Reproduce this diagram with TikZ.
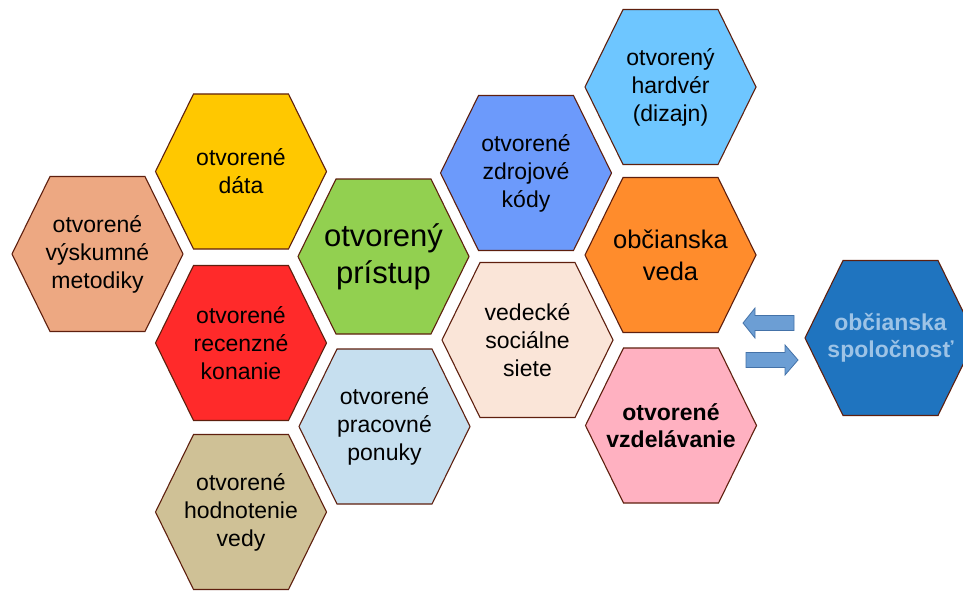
\documentclass[tikz,border=0pt]{standalone}
\usepackage{fontspec}
\setmainfont{Liberation Sans}
\definecolor{hexborder}{HTML}{5E1F0E}
\definecolor{cMet}{HTML}{EDA882}
\definecolor{cDat}{HTML}{FFC800}
\definecolor{cRec}{HTML}{FF2A2A}
\definecolor{cHod}{HTML}{CFC196}
\definecolor{cPri}{HTML}{92D050}
\definecolor{cPra}{HTML}{C6DFEF}
\definecolor{cZdr}{HTML}{6C9AFB}
\definecolor{cSoc}{HTML}{FAE5D8}
\definecolor{cHar}{HTML}{6EC6FF}
\definecolor{cObv}{HTML}{FF8C2C}
\definecolor{cVzd}{HTML}{FFB1C1}
\definecolor{cSpo}{HTML}{1F74BF}
\definecolor{cSpoTxt}{HTML}{9DC3E6}
\definecolor{cArr}{HTML}{6C9ED4}
\definecolor{cArrB}{HTML}{4472A8}
\tikzset{
  hexline/.style={draw=hexborder, line width=1.1pt, line join=miter},
  hextext/.style={align=center, inner sep=0pt, text=black, font=\fontsize{23}{28}\selectfont},
  bigtext/.style={font=\fontsize{31}{37}\selectfont},
  midtext/.style={font=\fontsize{25.5}{32}\selectfont},
  boldtext/.style={font=\fontsize{23}{27}\selectfont\bfseries},
  blockarrow/.style={draw=cArrB, fill=cArr, line width=0.8pt, line join=miter},
}
\newcommand{\hexcell}[6][]{%
  \draw[hexline, fill=#5] (#3-85.5,#4) -- (#3-47.5,#4-77.5) -- (#3+47.5,#4-77.5) -- (#3+85.5,#4) -- (#3+47.5,#4+77.5) -- (#3-47.5,#4+77.5) -- cycle;
  \node[hextext,#1] (#2) at (#3,#4) {#6};
}
\begin{document}
\begin{tikzpicture}[x=1pt,y=-1pt]
\useasboundingbox (0,0) rectangle (963,591);
\begin{scope}
\clip (0,0) rectangle (963,591);
\hexcell{met}{97.5}{254}{cMet}{otvorené\\výskumné\\metodiky}
\hexcell{dat}{241}{171.5}{cDat}{otvorené\\dáta}
\hexcell{rec}{241}{343}{cRec}{otvorené\\recenzné\\konanie}
\hexcell{hod}{241}{512}{cHod}{otvorené\\hodnotenie\\vedy}
\hexcell[bigtext]{pri}{383.5}{256.5}{cPri}{otvorený\\prístup}
\hexcell{pra}{384.5}{426.5}{cPra}{otvorené\\pracovné\\ponuky}
\hexcell{zdr}{526}{173}{cZdr}{otvorené\\zdrojové\\kódy}
\hexcell{soc}{527.5}{340}{cSoc}{vedecké\\sociálne\\siete}
\hexcell{har}{670.5}{87}{cHar}{otvorený\\hardvér\\(dizajn)}
\hexcell[midtext]{obv}{670.5}{255}{cObv}{občianska\\veda}
\hexcell[boldtext]{vzd}{671}{425.5}{cVzd}{otvorené\\vzdelávanie}
\hexcell[boldtext,text=cSpoTxt]{spo}{890.5}{338}{cSpo}{občianska\\spoločnosť}
\end{scope}
% block arrows
\draw[blockarrow] (743,323) -- (755,308) -- (755,315.5) -- (794,315.5) -- (794,330.5) -- (755,330.5) -- (755,338) -- cycle;
\draw[blockarrow] (798,360) -- (785,345) -- (785,352.5) -- (746,352.5) -- (746,367.5) -- (785,367.5) -- (785,375) -- cycle;
\end{tikzpicture}
\end{document}
